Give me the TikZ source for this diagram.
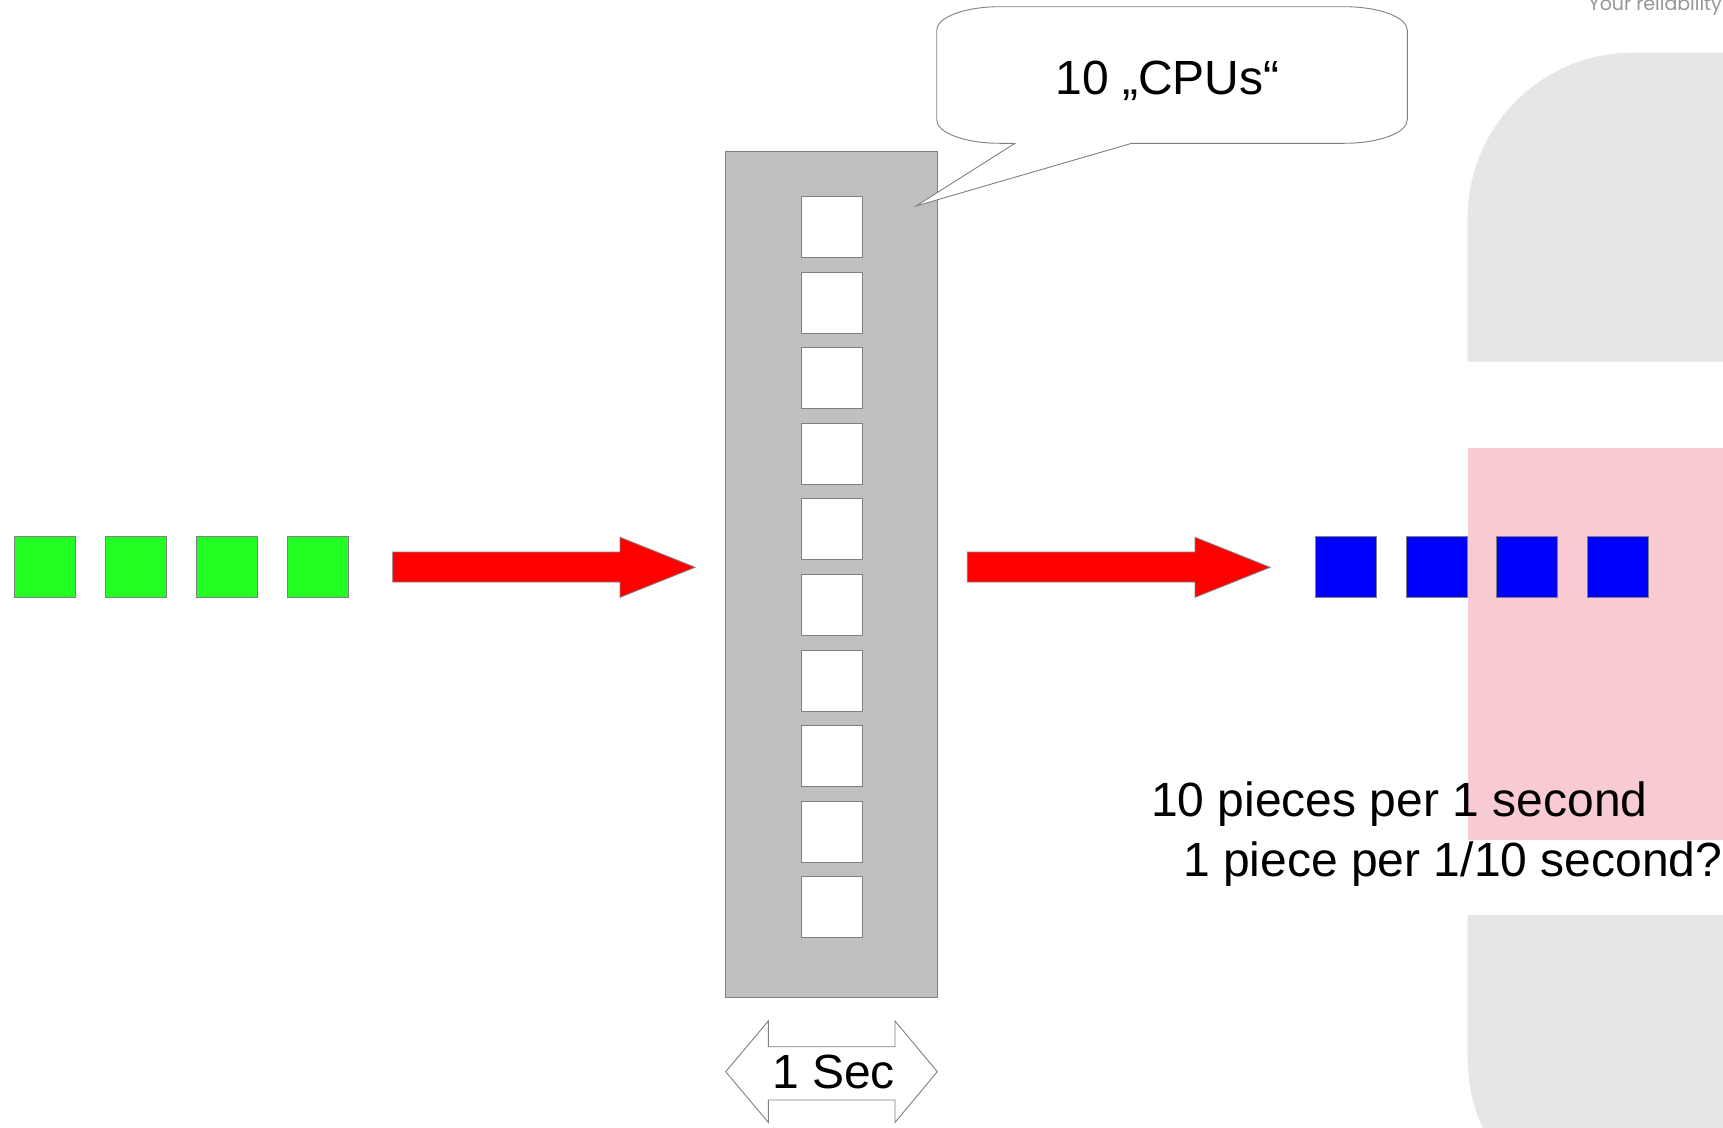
\documentclass[tikz,border=0pt]{standalone}
\usepackage{fontspec}
\setmainfont{Liberation Sans}
\newfontfamily\logofont{Poppins}
\definecolor{outl}{RGB}{128,128,128}
\definecolor{colgray}{RGB}{192,192,192}
\definecolor{sqgreen}{RGB}{34,255,34}
\definecolor{sqblue}{RGB}{0,0,255}
\definecolor{arrred}{RGB}{255,0,0}
\definecolor{bggray}{RGB}{230,230,231}
\definecolor{bgpink}{RGB}{248,203,210}
\definecolor{logogray}{RGB}{150,150,150}
\begin{document}
\begin{tikzpicture}[x=1pt,y=-1pt,
  sq/.style={draw=outl, line width=0.9pt, minimum size=61pt, inner sep=0pt, outer sep=0pt},
  greensq/.style={sq, fill=sqgreen},
  bluesq/.style={sq, fill=sqblue},
  cell/.style={sq, fill=white},
  column/.style={draw=outl, line width=0.9pt, fill=colgray, minimum width=212pt, minimum height=846pt, inner sep=0pt},
  bigtext/.style={font=\fontsize{48}{57}\selectfont, inner sep=0pt},
  blockarrow/.style={draw=outl, line width=0.9pt, fill=arrred},
  outline/.style={draw=outl, line width=0.9pt, fill=white}]
\useasboundingbox (0,0) rectangle (1723,1127);
\clip (0,0) rectangle (1723,1127);
\fill[white] (0,0) rectangle (1723,1127);
% background decoration
\fill[bggray] (1467.7,361.7) [rounded corners=165pt] -- (1467.7,52.7) -- (2100,52.7) [sharp corners] -- (2100,361.7) -- cycle;
\fill[bgpink] (1467.7,448.3) rectangle (1760,840);
\fill[bggray] (1467.7,915) [rounded corners=165pt] -- (1467.7,1224) -- (2100,1224) [sharp corners] -- (2100,915) -- cycle;
\node[anchor=base east, inner sep=0pt, text=logogray, font=\logofont\fontsize{19}{23}\selectfont] (logo) at (1722,10) {Your reliability};
% input pieces
\node[greensq] (g1) at (45.2,567) {};
\node[greensq] (g2) at (135.8,567) {};
\node[greensq] (g3) at (226.6,567) {};
\node[greensq] (g4) at (317.5,567) {};
% arrows
\draw[blockarrow] (392.7,552) -- (620,552) -- (620,537.3) -- (695,567.3) -- (620,597.3) -- (620,582) -- (392.7,582) -- cycle;
\draw[blockarrow] (967.3,552) -- (1195,552) -- (1195,537.3) -- (1270,567.3) -- (1195,597.3) -- (1195,582) -- (967.3,582) -- cycle;
% column of CPUs
\node[column] (col) at (831.4,574.5) {};
\foreach \i in {0,...,9} {
  \node[cell] (c\i) at (831.6,227+75.6*\i) {};
}
% output pieces
\node[bluesq] (b1) at (1345.8,567) {};
\node[bluesq] (b2) at (1436.8,567) {};
\node[bluesq] (b3) at (1527.2,567) {};
\node[bluesq] (b4) at (1617.8,567) {};
% callout
\draw[outline] (936.7,30.2) .. controls (936.7,17.2) and (964.9,6.7) .. (999.7,6.7)
  -- (1344.3,6.7) .. controls (1379.1,6.7) and (1407.3,17.2) .. (1407.3,30.2)
  -- (1407.3,119.8) .. controls (1407.3,132.8) and (1379.1,143.3) .. (1344.3,143.3)
  -- (1131.7,143.3) -- (916,206) -- (1015,143.3) -- (999.7,143.3)
  .. controls (964.9,143.3) and (936.7,132.8) .. (936.7,119.8) -- cycle;
\node[bigtext, anchor=base] (cpus) at (1167.5,94.3) {10 „CPUs“};
% 1 Sec double arrow
\draw[outline] (725.7,1071.7) -- (768.3,1021) -- (768.3,1046.7) -- (895,1046.7) -- (895,1021)
  -- (937.3,1071.7) -- (895,1122.4) -- (895,1100) -- (768.3,1100) -- (768.3,1122.4) -- cycle;
\node[bigtext, anchor=base] (sec) at (833.4,1088.3) {1 Sec};
% rate text
\node[bigtext, anchor=base west] (rate1) at (1151,816.7) {10 pieces per 1 second};
\node[bigtext, anchor=base west] (rate2) at (1183,876) {1 piece per 1/10 second?};
\end{tikzpicture}
\end{document}
